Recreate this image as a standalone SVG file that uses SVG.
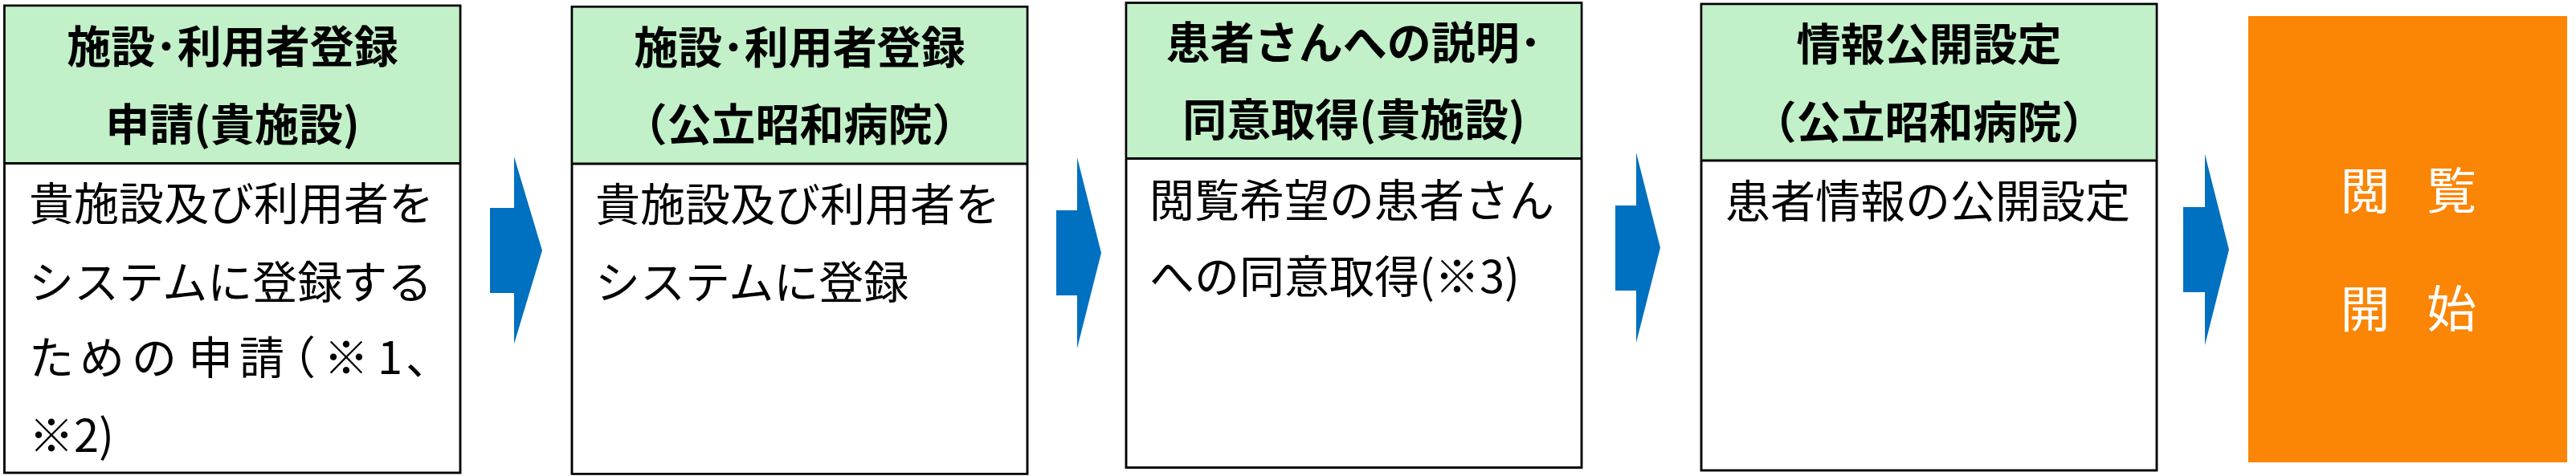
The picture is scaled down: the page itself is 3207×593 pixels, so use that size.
<svg xmlns="http://www.w3.org/2000/svg" width="3207" height="593" viewBox="0 0 3207 593">
<style>
.box{fill:#FFFFFF;stroke:#000000;stroke-width:2.5}
.hdr{fill:#C2F0C8}
.div{stroke:#000000;stroke-width:3}
.ht{font-family:"Noto Sans CJK JP","Noto Sans CJK SC",sans-serif;font-size:55px;font-weight:700;fill:#000000;text-anchor:middle}
.bt{font-family:"Noto Sans CJK JP","Noto Sans CJK SC",sans-serif;font-size:56px;font-weight:400;fill:#000000}
.arrow{fill:#0070C0}
.goal{fill:#FB8505}
.gt{font-family:"Noto Sans CJK JP","Noto Sans CJK SC",sans-serif;font-size:62px;font-weight:400;fill:#FFFFFF;text-anchor:middle}
</style>
<rect width="3207" height="593" fill="#FFFFFF"/>
<g id="node1">
<rect class="box" x="5.5" y="7" width="567.5" height="582"/>
<rect class="hdr" x="6.75" y="8.25" width="565" height="195"/>
<line class="div" x1="5.5" y1="203.5" x2="573" y2="203.5"/>
<rect x="5.5" y="7" width="567.5" height="582" fill="none" stroke="#000" stroke-width="2.5"/>
<text class="ht" x="289.5" y="78">施設･利用者登録</text>
<text class="ht" x="289.5" y="174.5">申請(貴施設)</text>
<text class="bt" x="36" y="274">貴施設及び利用者を</text>
<text class="bt" x="36" y="371.5">システムに登録する</text>
<text class="bt" x="36 99 164 234 298 337 403 470 505" y="466">ための申請（※1、</text>
<text class="bt" x="36" y="562.5">※2)</text>
</g>
<g id="node2">
<rect class="box" x="712" y="8.3" width="567" height="582"/>
<rect class="hdr" x="713.25" y="9.55" width="564.5" height="194.5"/>
<line class="div" x1="712" y1="204" x2="1279" y2="204"/>
<rect x="712" y="8.3" width="567" height="582" fill="none" stroke="#000" stroke-width="2.5"/>
<text class="ht" x="995.5" y="78.5">施設･利用者登録</text>
<text class="ht" x="995.5" y="175">（公立昭和病院）</text>
<text class="bt" x="741" y="275">貴施設及び利用者を</text>
<text class="bt" x="741" y="372">システムに登録</text>
</g>
<g id="node3">
<rect class="box" x="1402" y="3.5" width="567" height="579"/>
<rect class="hdr" x="1403.25" y="4.75" width="564.5" height="192.75"/>
<line class="div" x1="1402" y1="197.5" x2="1969" y2="197.5"/>
<rect x="1402" y="3.5" width="567" height="579" fill="none" stroke="#000" stroke-width="2.5"/>
<text class="ht" x="1685.5" y="73">患者さんへの説明･</text>
<text class="ht" x="1685.5" y="168.5">同意取得(貴施設)</text>
<text class="bt" x="1431" y="269.5">閲覧希望の患者さん</text>
<text class="bt" x="1431" y="364.5">への同意取得(※3)</text>
</g>
<g id="node4">
<rect class="box" x="2118" y="5" width="567" height="581"/>
<rect class="hdr" x="2119.25" y="6.25" width="564.5" height="193.75"/>
<line class="div" x1="2118" y1="200" x2="2685" y2="200"/>
<rect x="2118" y="5" width="567" height="581" fill="none" stroke="#000" stroke-width="2.5"/>
<text class="ht" x="2401.5" y="75">情報公開設定</text>
<text class="ht" x="2401.5" y="171.5">（公立昭和病院）</text>
<text class="bt" x="2148" y="271">患者情報の公開設定</text>
</g>
<g id="node5">
<rect class="goal" x="2799" y="20" width="397" height="556"/>
<text class="gt" x="2944.5" y="261">閲</text>
<text class="gt" x="3052" y="261">覧</text>
<text class="gt" x="2944.5" y="407.5">開</text>
<text class="gt" x="3052" y="407.5">始</text>
</g>
<g id="connectors">
<polygon class="arrow" points="610,259 640,259 640,195 675,312 640,428.5 640,365 610,365"/>
<polygon class="arrow" points="1315,262 1341,262 1341,196 1371,315 1341,434 1341,368 1315,368"/>
<polygon class="arrow" points="2011,256 2037,256 2037,190 2067,308.5 2037,427 2037,362 2011,362"/>
<polygon class="arrow" points="2718,258 2745,258 2745,192 2775,311 2745,430 2745,364 2718,364"/>
</g>
</svg>
